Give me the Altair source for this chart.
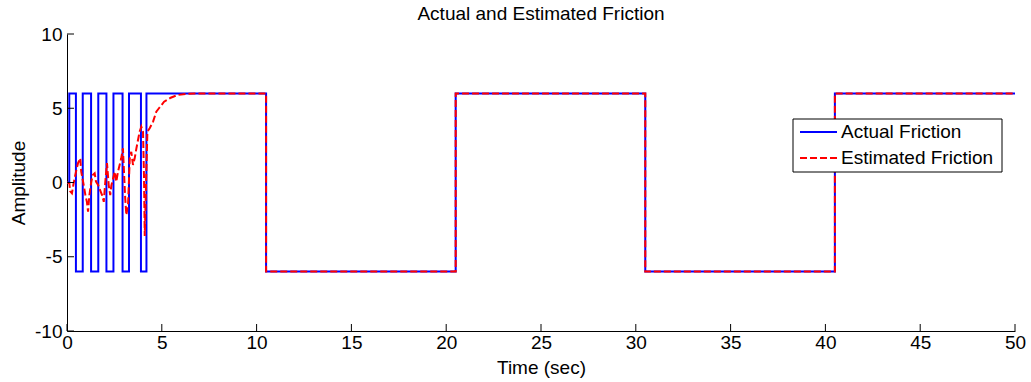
import altair as alt
import pandas as pd

# Applied (actual) friction: starts at 0, then switches between +6 and -6
actual_start = 0.0
actual_switch_t = [0.12, 0.47, 0.83, 1.27, 1.65, 2.08, 2.45, 2.93, 3.27, 3.90, 4.19,
                   10.5, 20.5, 30.5, 40.5]
actual_levels = [6, -6, 6, -6, 6, -6, 6, -6, 6, -6, 6, -6, 6, -6, 6]

# Estimated friction: observer transient, then it tracks the square wave
est_t = [0.0, 0.12, 0.17, 0.26, 0.35, 0.47, 0.58, 0.70, 0.75, 0.88, 0.97, 1.05, 1.11,
         1.18, 1.28, 1.36, 1.46, 1.53, 1.64, 1.74, 1.85, 1.94, 2.02, 2.11, 2.20, 2.28,
         2.34, 2.52, 2.60, 2.69, 2.86, 2.95, 3.07, 3.13, 3.22, 3.31, 3.39, 3.48, 3.57,
         3.66, 3.83, 3.92, 4.01, 4.06, 4.10, 4.18, 4.24, 4.36, 4.54, 4.71, 4.85, 5.12,
         5.47, 5.82, 6.33, 6.75]
est_v = [0.0, -0.05, -0.6, -0.73, -0.05, 0.7, 1.3, 1.63, 0.73, -0.17, -0.85, -1.3, -1.97,
         -0.85, 0.05, 0.5, 0.62, 0.05, -0.17, -0.5, -0.85, -1.3, 0.05, 1.3, -0.17, -0.85,
         -0.2, 0.73, 0.05, 0.73, 1.63, 2.3, -1.07, -2.19, -1.5, 1.63, 2.07, 1.18, 1.63,
         2.3, 3.42, 3.76, 3.4, 0.5, -3.6, 0.5, 3.42, 3.65, 4.1, 4.77, 5.0, 5.44,
         5.71, 5.89, 5.98, 6.0]
est_switch_t = [10.5, 20.5, 30.5, 40.5]
est_levels = [-6, 6, -6, 6]

t_end = 50.0
x_ticks = [0, 5, 10, 15, 20, 25, 30, 35, 40, 45, 50]
y_ticks = [-10, -5, 0, 5, 10]

series_names = ["Actual Friction", "Estimated Friction"]
series_colors = ["#0000FF", "#FF0000"]
series_dash = [[1, 0], [7, 3]]

rows = []


def add(series, t, v):
    rows.append({"series": series, "t": t, "v": v, "i": len(rows)})


# actual friction as a step signal
level = actual_start
add(series_names[0], 0.0, level)
for ts, lv in zip(actual_switch_t, actual_levels):
    add(series_names[0], ts, level)
    add(series_names[0], ts, lv)
    level = lv
add(series_names[0], t_end, level)

# estimated friction: transient samples, then the same steps
for ts, vv in zip(est_t, est_v):
    add(series_names[1], ts, vv)
level = est_v[-1]
for ts, lv in zip(est_switch_t, est_levels):
    add(series_names[1], ts, level)
    add(series_names[1], ts, lv)
    level = lv
add(series_names[1], t_end, level)

df = pd.DataFrame(rows)

W, H = 948, 297
FONT = "Liberation Sans"
FS = 19
TICK = 7

x_scale = alt.Scale(domain=[0, 50], nice=False, zero=False)
y_scale = alt.Scale(domain=[-10, 10], nice=False, zero=False)

axis_style = dict(ticks=False, grid=False, domainColor="black", labelColor="black",
                  titleColor="black", labelFont=FONT, titleFont=FONT,
                  labelFontSize=FS, titleFontSize=FS, titleFontWeight="normal",
                  labelFlush=False, labelExpr="toString(datum.value)")
x_axis = alt.Axis(values=x_ticks, labelPadding=2, titlePadding=6, **axis_style)
y_axis = alt.Axis(values=y_ticks, labelPadding=5, titlePadding=6, **axis_style)
X_TITLE = "Time (sec)"
Y_TITLE = "Amplitude"

lines = alt.Chart(df).mark_line(strokeWidth=2, clip=True).encode(
    x=alt.X("t:Q", scale=x_scale, title=X_TITLE, axis=x_axis),
    y=alt.Y("v:Q", scale=y_scale, title=Y_TITLE, axis=y_axis),
    color=alt.Color("series:N", scale=alt.Scale(domain=series_names,
                                                range=series_colors), legend=None),
    strokeDash=alt.StrokeDash("series:N", scale=alt.Scale(domain=series_names,
                                                          range=series_dash),
                              legend=None),
    order="i:Q",
)

# inward tick marks on both axes
xt = pd.DataFrame({"t": x_ticks})
yt = pd.DataFrame({"v": y_ticks})

x_tick_marks = alt.Chart(xt).mark_rule(color="black", strokeWidth=1).encode(
    x=alt.X("t:Q", scale=x_scale, title=X_TITLE, axis=x_axis),
    y=alt.value(H),
    y2=alt.value(H - TICK),
)
y_tick_marks = alt.Chart(yt).mark_rule(color="black", strokeWidth=1).encode(
    y=alt.Y("v:Q", scale=y_scale, title=Y_TITLE, axis=y_axis),
    x=alt.value(0),
    x2=alt.value(TICK),
)

# legend box drawn in the upper right of the plot
LX0, LX1, LY0, LY1 = 726, 935, 85, 138
SYM_X0, SYM_X1, LABEL_X = 733, 770, 774
ROW_Y = [98, 124]

legend_df = pd.DataFrame({"series": series_names})

legend_box = alt.Chart(legend_df.head(1)).mark_rect(
    fill="white", stroke="black", strokeWidth=1
).encode(x=alt.value(LX0), x2=alt.value(LX1), y=alt.value(LY0), y2=alt.value(LY1))

legend_layers = [legend_box]
for k, name in enumerate(series_names):
    entry = legend_df[legend_df["series"] == name]
    legend_layers.append(
        alt.Chart(entry).mark_rule(color=series_colors[k], strokeWidth=2,
                                   strokeDash=series_dash[k]).encode(
            x=alt.value(SYM_X0), x2=alt.value(SYM_X1), y=alt.value(ROW_Y[k]))
    )
    legend_layers.append(
        alt.Chart(entry).mark_text(align="left", baseline="middle", font=FONT,
                                   fontSize=FS, color="black").encode(
            x=alt.value(LABEL_X), y=alt.value(ROW_Y[k]), text="series:N")
    )

chart = alt.layer(lines, x_tick_marks, y_tick_marks, *legend_layers).properties(
    width=W,
    height=H,
    title=alt.TitleParams("Actual and Estimated Friction", font=FONT, fontSize=FS,
                          fontWeight="normal", color="black", anchor="middle",
                          offset=1),
    padding={"left": 67, "top": 34, "right": 16, "bottom": 51},
    autosize=alt.AutoSizeParams(type="none"),
    background="white",
).configure_view(stroke=None)

chart.save("out.html", embed_options={"renderer": "svg", "actions": False})
